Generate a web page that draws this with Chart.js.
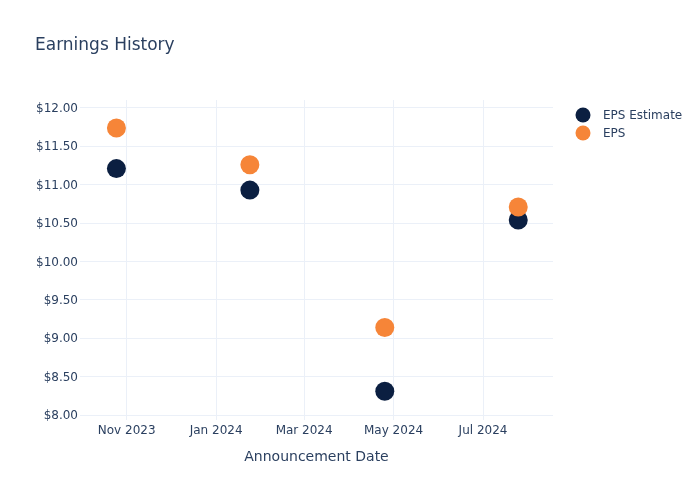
<!DOCTYPE html>
<html>
<head>
<meta charset="utf-8">
<script src="https://cdn.jsdelivr.net/npm/chart.js@4"></script>
<style>
  body { margin: 0; background: #fff; }
  canvas { display: block; }
</style>
</head>
<body>
<canvas id="epsChart" width="700" height="500"></canvas>
<script>
// 데이터
const announceDates = ['2023-10-25', '2024-01-24', '2024-04-25', '2024-07-25'];
const epsEstimate = [11.21, 10.93, 8.31, 10.54];
const epsActual = [11.74, 11.26, 9.14, 10.71];
const xTickDates = ['2023-11-01', '2024-01-01', '2024-03-01', '2024-05-01', '2024-07-01'];
const xTickLabels = ['Nov 2023', 'Jan 2024', 'Mar 2024', 'May 2024', 'Jul 2024'];
const yTicks = [8, 8.5, 9, 9.5, 10, 10.5, 11, 11.5, 12];

const seriesNames = ['EPS Estimate', 'EPS'];
const seriesColors = ['#0b1f41', '#f68538'];

const ts = (d) => Date.parse(d + 'T00:00:00Z');
const FONT = "'DejaVu Sans', Verdana, sans-serif";
const TEXT = '#2a3f5f';
const GRID = '#ebf0f8';

// 제목 + 범례 직접 그리기
const overlay = {
    id: 'overlay',
    afterDraw(chart) {
        const c = chart.ctx;
        c.save();
        c.fillStyle = TEXT;
        c.textBaseline = 'middle';
        c.font = `17px ${FONT}`;
        c.fillText('Earnings History', 35, 46);

        c.font = `12px ${FONT}`;
        seriesNames.forEach((name, i) => {
            const y = 115 + i * 18;
            c.beginPath();
            c.arc(583, y, 7.5, 0, Math.PI * 2);
            c.fillStyle = seriesColors[i];
            c.fill();
            c.fillStyle = TEXT;
            c.fillText(name, 603, y + 1);
        });
        c.restore();
    }
};

new Chart(document.getElementById('epsChart'), {
    type: 'scatter',
    data: {
        datasets: [
            {
                label: seriesNames[0],
                data: announceDates.map((d, i) => ({x: ts(d), y: epsEstimate[i]})),
                backgroundColor: seriesColors[0],
                order: 1,
            },
            {
                label: seriesNames[1],
                data: announceDates.map((d, i) => ({x: ts(d), y: epsActual[i]})),
                backgroundColor: seriesColors[1],
                order: 0,
            },
        ],
    },
    options: {
        responsive: false,
        animation: false,
        elements: {point: {radius: 9.5, hoverRadius: 9.5, borderWidth: 0}},
        layout: {padding: {top: 100, right: 147, bottom: 0, left: 0}},
        plugins: {
            legend: {display: false},
            tooltip: {enabled: false},
        },
        scales: {
            x: {
                type: 'linear',
                min: Date.UTC(2023, 8, 30, 4),
                max: Date.UTC(2024, 7, 17, 17),
                afterFit: (s) => { s.height = 80; },
                afterBuildTicks: (s) => { s.ticks = xTickDates.map((d) => ({value: ts(d)})); },
                ticks: {
                    padding: 4,
                    maxRotation: 0,
                    autoSkip: false,
                    color: TEXT,
                    font: {family: FONT, size: 12},
                    callback: (v) => xTickLabels[xTickDates.findIndex((d) => ts(d) === v)],
                },
                grid: {color: GRID, lineWidth: 1, drawTicks: false},
                border: {display: false},
                title: {
                    display: true,
                    text: 'Announcement Date',
                    color: TEXT,
                    font: {family: FONT, size: 14},
                    padding: {top: 0, bottom: 34.6},
                },
            },
            y: {
                min: 7.935,
                max: 12.104,
                afterFit: (s) => { s.width = 80; },
                afterBuildTicks: (s) => { s.ticks = yTicks.map((v) => ({value: v})); },
                ticks: {
                    padding: 2,
                    labelOffset: 1,
                    color: TEXT,
                    font: {family: FONT, size: 12},
                    callback: (v) => '$' + v.toFixed(2),
                },
                grid: {color: GRID, lineWidth: 1, drawTicks: false},
                border: {display: false},
            },
        },
    },
    plugins: [overlay],
});
</script>
</body>
</html>
